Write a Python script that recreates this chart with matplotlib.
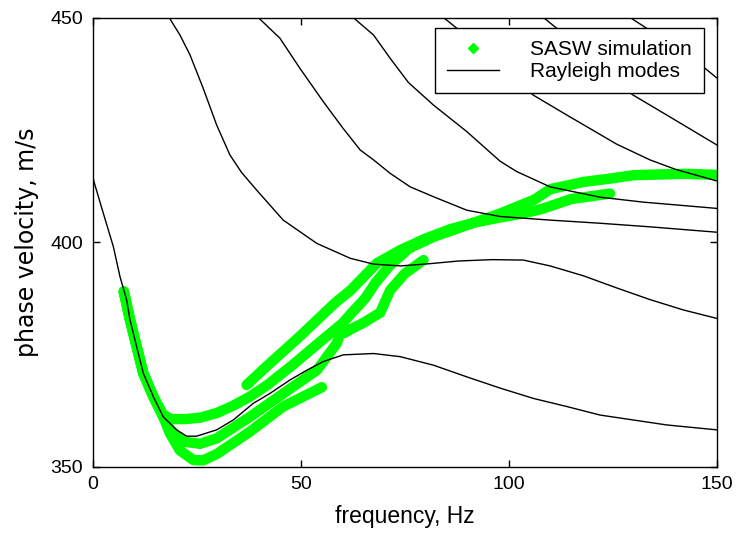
import matplotlib
matplotlib.use("Agg")
import matplotlib.pyplot as plt
from matplotlib.lines import Line2D

plt.rcParams['font.family'] = ['Liberation Sans', 'DejaVu Sans']

# Rayleigh modes (frequency Hz, phase velocity m/s)
f1 = [0, 0.3, 2.6, 5.0, 6.6, 8.2, 9.0, 10.6, 12.2, 14.6, 17.0, 20.2, 22.6, 25.0, 29.8, 33.8,
      38.6, 42.6, 47.4, 51.5, 55.4, 60.2, 67.5, 73.9, 81.9, 89.9, 97.9, 105.9, 113.9, 121.9,
      129.9, 137.9, 150]
v1 = [415.0, 413.6, 406.4, 399.0, 392.3, 387.1, 382.7, 376.7, 370.8, 365.6, 361.1, 358.2, 356.8,
      356.8, 358.2, 360.4, 364.1, 366.3, 369.3, 371.5, 373.4, 374.9, 375.2, 374.5, 372.6, 370.0,
      367.5, 365.2, 363.4, 361.5, 360.4, 359.3, 358.2]

f2 = [18.4, 21.0, 23.4, 26.6, 29.8, 33.0, 35.8, 39.4, 45.8, 53.9, 61.9, 67.5, 74, 81, 88, 96,
      103.5, 109.9, 117.9, 125.9, 133.9, 141.9, 150]
v2 = [450, 446.1, 441.7, 434.2, 426.1, 419.4, 415.5, 411.6, 404.9, 399.7, 396.4, 395.1, 394.7,
      395.2, 395.8, 396.1, 396.0, 394.7, 392.5, 389.8, 387.2, 384.9, 383.0]

f3 = [39.8, 45.0, 49.8, 55.4, 60.2, 64.3, 67.5, 71.5, 76.3, 81.9, 89.9, 97.9, 109.9, 121.9, 133.9, 150]
v3 = [450, 445.4, 438.7, 431.3, 425.3, 420.5, 418.3, 415.3, 412.3, 410.1, 407.1, 405.7, 404.9,
      404.2, 403.4, 402.2]

f4 = [62.6, 67.5, 71.5, 75.9, 81.9, 89.9, 97.9, 101.9, 109.9, 121.9, 132.3, 150]
v4 = [450, 446.1, 440.9, 435.5, 430.5, 424.6, 418.0, 415.7, 412.3, 410.0, 408.9, 407.5]

f5 = [84.3, 87.5, 92, 97, 101, 105.9, 113.9, 125.9, 133.9, 140, 150]
v5 = [450, 447.6, 444.0, 440.0, 436.5, 432.7, 428.3, 421.8, 418.3, 416.2, 413.6]

f6 = [108.3, 111.5, 116, 121, 125, 129.9, 137.9, 150]
v6 = [450, 447.6, 444.0, 440.0, 436.0, 432.7, 428.3, 421.6]

f7 = [129.1, 133.1, 138, 143, 147.1, 150]
v7 = [450, 447.6, 444.5, 441.0, 438.7, 436.5]

modes = [(f1, v1), (f2, v2), (f3, v3), (f4, v4), (f5, v5), (f6, v6), (f7, v7)]

# SASW simulation tracks
sasw_a_f = [7.5, 9.0, 10.6, 12.2, 14.6, 17.0, 19.0, 22.0, 25.8, 30.0, 33.8, 37.8, 42.0, 48.0,
            54.0, 60.0, 62.0, 65.5, 68.0, 71.5, 76.0, 82.0, 90.0, 98.0, 106.0, 110.0, 115.0,
            118.0, 124.0, 130.0, 142.0, 149.5]
sasw_a_v = [389.0, 382.7, 376.7, 370.8, 365.6, 361.5, 360.6, 360.6, 360.9, 362.0, 363.6, 365.6,
            368.2, 372.6, 377.3, 381.9, 384.0, 387.5, 391.0, 394.9, 398.6, 401.2, 403.8, 406.4,
            409.4, 411.8, 412.8, 413.4, 414.1, 414.9, 415.2, 415.0]

sasw_b_f = [37.0, 42.0, 50.0, 58.3, 62.0, 68.3, 73.9, 80.0, 86.0, 92.0, 98.0, 103.0, 108.0,
            115.0, 124.3]
sasw_b_v = [368.2, 372.5, 379.2, 386.5, 389.3, 395.3, 398.2, 400.8, 402.9, 404.4, 405.5, 406.3,
            407.4, 409.6, 410.8]

sasw_c_f = [7.5, 9.0, 10.6, 12.2, 14.6, 17.0, 18.6, 21.8, 25.8, 29.8, 37.8, 45.8, 53.9, 58.7,
            60.0, 60.6, 62.0, 65.0, 69.1, 71.5, 75.0, 79.5]
sasw_c_v = [389.0, 382.7, 376.7, 370.8, 365.6, 361.1, 358.3, 355.6, 355.1, 356.3, 361.1, 366.3,
            371.5, 377.5, 381.5, 379.8, 380.6, 382.0, 384.3, 389.3, 393.0, 396.0]

sasw_d_f = [7.5, 9.0, 10.6, 12.2, 14.6, 17.0, 18.6, 21.0, 24.2, 26.5, 29.8, 37.8, 45.8, 55.1]
sasw_d_v = [389.0, 382.7, 376.7, 370.8, 365.6, 361.1, 357.4, 353.6, 351.5, 351.4, 352.8, 357.8,
            363.4, 367.7]

tracks = [(sasw_a_f, sasw_a_v), (sasw_b_f, sasw_b_v), (sasw_c_f, sasw_c_v), (sasw_d_f, sasw_d_v)]

verde = '#00ff00'

fig = plt.figure(figsize=(7.39, 5.42), dpi=100)
ax = fig.add_axes([0.1252, 0.1389, 0.8451, 0.8288])

for f, v in tracks:
    ax.plot(f, v, color=verde, lw=7.5, solid_capstyle='round', solid_joinstyle='round', zorder=2)

for f, v in modes:
    ax.plot(f, v, color='black', lw=1.0, zorder=3)

ax.set_xlim(0, 150)
ax.set_ylim(350, 450)
ax.set_xticks([0, 50, 100, 150])
ax.set_yticks([350, 400, 450])
ax.tick_params(direction='in', top=True, right=True, length=5, width=1, labelsize=14, pad=7)
for s in ax.spines.values():
    s.set_linewidth(1.0)

ax.set_xlabel('frequency, Hz', fontsize=16.5, labelpad=8)
ax.set_ylabel('phase velocity, m/s', fontsize=17, labelpad=8, family=['DejaVu Sans'])

handles = [Line2D([], [], color=verde, marker='D', ms=5, ls='none'),
           Line2D([], [], color='black', lw=1.0)]
leg = ax.legend(handles, ['SASW simulation', 'Rayleigh modes'], loc='upper right',
                bbox_to_anchor=(0.979, 0.977), borderaxespad=0, fontsize=15,
                fancybox=False, framealpha=1, edgecolor='black', handlelength=2.5,
                handletextpad=1.45, labelspacing=0.12, borderpad=0.6)
leg.get_frame().set_linewidth(1.0)

fig.savefig('out.png', dpi=100)
